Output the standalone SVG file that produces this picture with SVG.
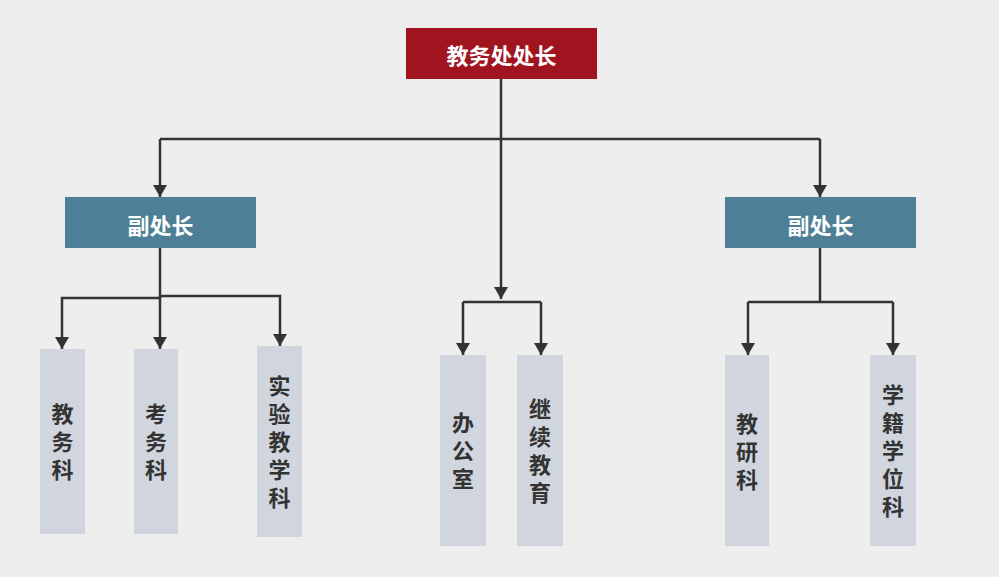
<svg xmlns="http://www.w3.org/2000/svg" width="999" height="577" viewBox="0 0 999 577">
<defs>
<marker id="arr" markerUnits="userSpaceOnUse" viewBox="0 0 12 14" refX="12" refY="7" markerWidth="12" markerHeight="14" orient="auto">
<path d="M0,0 L12,7 L0,14 z" fill="#333"/>
</marker>
<style>
.c{fill:none;stroke:#333;stroke-width:2.5}
.a{marker-end:url(#arr)}
.hd{fill:#a0141f}
.dp{fill:#4d7f96}
.ch{fill:#d0d5de}
.tw{fill:#fff;font-family:"Noto Sans CJK SC","Noto Sans",sans-serif;font-weight:bold;font-size:22px;text-anchor:middle;dominant-baseline:central}
.td{fill:#333;font-family:"Noto Sans CJK SC","Noto Sans",sans-serif;font-weight:bold;font-size:22px;text-anchor:middle;dominant-baseline:central;writing-mode:vertical-rl;letter-spacing:6px}
</style>
</defs>
<rect width="999" height="577" fill="#eeeeee"/>
<g id="connectors">
<path class="c" d="M501,79 V139 M160,139 H820"/>
<path class="c a" d="M160,139 V197"/>
<path class="c a" d="M820,139 V197"/>
<path class="c a" d="M501,139 V299"/>
<path class="c" d="M463,302 H541"/>
<path class="c a" d="M463,302 V355"/>
<path class="c a" d="M541,302 V355"/>
<path class="c" d="M160,248 V298"/>
<path class="c a" d="M161,298 H62 V349"/>
<path class="c a" d="M159,296 H280 V346"/>
<path class="c a" d="M160,296 V349"/>
<path class="c" d="M820,248 V302 M748,302 H893"/>
<path class="c a" d="M748,302 V355"/>
<path class="c a" d="M893,302 V355"/>
</g>
<g id="director">
<rect class="hd" x="406" y="28" width="191" height="51"/>
<text class="tw" x="501.5" y="54">教务处处长</text>
</g>
<g id="deputy-left">
<rect class="dp" x="65" y="197" width="191" height="51"/>
<text class="tw" x="160.5" y="224">副处长</text>
</g>
<g id="deputy-right">
<rect class="dp" x="725" y="197" width="191" height="51"/>
<text class="tw" x="820.5" y="224">副处长</text>
</g>
<g id="jiaowuke">
<rect class="ch" x="40" y="349" width="45" height="185"/>
<text class="td" x="62.5" y="445">教务科</text>
</g>
<g id="kaowuke">
<rect class="ch" x="134" y="349" width="44" height="185"/>
<text class="td" x="156" y="445">考务科</text>
</g>
<g id="shiyanjiaoxueke">
<rect class="ch" x="257" y="346" width="45" height="191"/>
<text class="td" x="279.5" y="445">实验教学科</text>
</g>
<g id="bangongshi">
<rect class="ch" x="440" y="355" width="46" height="191"/>
<text class="td" x="463" y="454">办公室</text>
</g>
<g id="jixujiaoyu">
<rect class="ch" x="517" y="355" width="46" height="191"/>
<text class="td" x="540" y="454">继续教育</text>
</g>
<g id="jiaoyanke">
<rect class="ch" x="725" y="355" width="44" height="191"/>
<text class="td" x="747" y="455">教研科</text>
</g>
<g id="xuejixueweike">
<rect class="ch" x="870" y="355" width="46" height="191"/>
<text class="td" x="893" y="454">学籍学位科</text>
</g>
</svg>
